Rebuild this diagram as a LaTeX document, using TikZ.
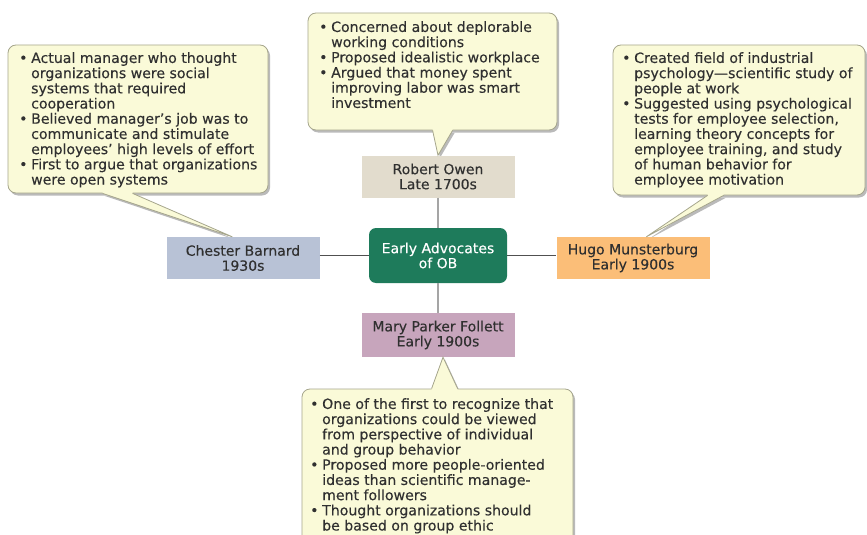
\documentclass[tikz,border=0pt]{standalone}
\usepackage{fontspec}
\setmainfont{DejaVu Sans}[FakeBold=0.25]
\usetikzlibrary{calc,shadows}
\pgfdeclarelayer{background}
\pgfsetlayers{background,main}
\definecolor{cfill}{RGB}{250,250,216}
\definecolor{cline}{RGB}{165,165,140}
\definecolor{cshadow}{RGB}{140,140,140}
\definecolor{owenc}{RGB}{226,220,205}
\definecolor{hubc}{RGB}{30,123,91}
\definecolor{barnc}{RGB}{184,194,214}
\definecolor{hugoc}{RGB}{251,190,120}
\definecolor{maryc}{RGB}{199,165,188}
\definecolor{txt}{RGB}{48,48,48}
\definecolor{hline}{RGB}{80,80,80}
\definecolor{vline}{RGB}{165,165,165}
\newcommand\bl{\makebox[12pt][l]{•}}
\newcommand\ct{\hspace*{12pt}}
\begin{document}
\begin{tikzpicture}[x=1pt,y=-1pt,
  person/.style={draw=none, fill=#1, minimum width=153pt, minimum height=42pt,
    inner sep=0pt, align=center, text=txt, font=\fontsize{14}{15}\selectfont},
  hubbox/.style={draw=none, fill=hubc, rounded corners=7pt, minimum width=138pt,
    minimum height=55pt, inner sep=0pt, align=center, text=white,
    font=\fontsize{14}{15}\selectfont},
  cbox/.style={draw=cline, line width=0.8pt, fill=cfill, rounded corners=8pt,
    drop shadow={shadow xshift=2pt, shadow yshift=-2.5pt, fill=cshadow, opacity=0.6},
    inner sep=0pt},
  ctext/.style={anchor=north west, inner sep=0pt, align=left, text=txt,
    font=\fontsize{14.1}{15.2}\selectfont},
  tailfill/.style={fill=cfill, draw=none},
  tailline/.style={draw=cline, line width=0.8pt, line join=miter},
  tailshadow/.style={fill=cshadow, opacity=0.6},
  hspoke/.style={draw=hline, line width=1.3pt},
  vspoke/.style={draw=vline, line width=1.3pt}
]
\useasboundingbox (0,0) rectangle (867,535);
\clip (0,0) rectangle (867,535);

% callout boxes
\node[cbox, minimum width=260pt, minimum height=148pt] (cL) at (138,119) {};
\node[cbox, minimum width=249pt, minimum height=117pt] (cT) at (432.5,71.5) {};
\node[cbox, minimum width=252pt, minimum height=150pt] (cR) at (739,120) {};
\node[cbox, minimum width=271pt, minimum height=160pt] (cB) at (437.5,469) {};

% person nodes
\node[person=owenc] (owen) at (438,176.5) {Robert Owen\\Late 1700s};
\node[hubbox] (hub) at (438,255.5) {Early Advocates\\of OB};
\node[person=barnc] (barnard) at (243,258) {Chester Barnard\\1930s};
\node[person=hugoc] (hugo) at (633,258) {Hugo Munsterburg\\Early 1900s};
\node[person=maryc, minimum height=44pt] (mary) at (438,335) {Mary Parker Follett\\Early 1900s};

% spokes
\draw[hspoke] (barnard.east |- hub.west) -- (hub.west);
\draw[hspoke] (hub.east) -- (hugo.west |- hub.east);
\draw[vspoke] (owen.south) -- (hub.north);
\draw[vspoke] (hub.south) -- (mary.north);

% tail coordinates
\coordinate (lb1) at ($(cL.south west)+(95,0)$);
\coordinate (lb2) at ($(cL.south west)+(125,0)$);
\coordinate (ltip) at ($(barnard.north west)+(66,0)$);
\coordinate (tb1) at ($(cT.south west)+(125,0)$);
\coordinate (tb2) at ($(cT.south west)+(145,0)$);
\coordinate (ttip) at (owen.north);
\coordinate (rb1) at ($(cR.south west)+(95,0)$);
\coordinate (rb2) at ($(cR.south west)+(111,0)$);
\coordinate (rtip) at ($(hugo.north west)+(90,0)$);
\coordinate (bb1) at ($(cB.north west)+(130,0)$);
\coordinate (bb2) at ($(cB.north west)+(156,0)$);
\coordinate (btip) at ($(mary.south)+(5,0)$);

% tail shadows
\begin{pgfonlayer}{background}
\foreach \a/\t/\b in {lb1/ltip/lb2, tb1/ttip/tb2, rb1/rtip/rb2, bb1/btip/bb2}{
  \fill[tailshadow] ([shift={(2pt,-2.5pt)}]\a) -- ([shift={(2pt,-2.5pt)}]\t) -- ([shift={(2pt,-2.5pt)}]\b) -- cycle;
}
\end{pgfonlayer}

% tails
\fill[tailfill] (lb1) -- (ltip) -- (lb2) -- ([yshift=2pt]lb2) -- ([yshift=2pt]lb1) -- cycle;
\draw[tailline] (lb1) -- (ltip) -- (lb2);
\fill[tailfill] (tb1) -- (ttip) -- (tb2) -- ([yshift=2pt]tb2) -- ([yshift=2pt]tb1) -- cycle;
\draw[tailline] (tb1) -- (ttip) -- (tb2);
\fill[tailfill] (rb1) -- (rtip) -- (rb2) -- ([yshift=2pt]rb2) -- ([yshift=2pt]rb1) -- cycle;
\draw[tailline] (rb1) -- (rtip) -- (rb2);
\fill[tailfill] (bb1) -- (btip) -- (bb2) -- ([yshift=-2pt]bb2) -- ([yshift=-2pt]bb1) -- cycle;
\draw[tailline] (bb1) -- (btip) -- (bb2);

% callout texts
\node[ctext] (tL) at (19,52) {\bl Actual manager who thought\\
\ct organizations were social\\
\ct systems that required\\
\ct cooperation\\
\bl Believed manager's job was to\\
\ct communicate and stimulate\\
\ct employees' high levels of effort\\
\bl First to argue that organizations\\
\ct were open systems};

\node[ctext] (tT) at (319,21) {\bl Concerned about deplorable\\
\ct working conditions\\
\bl Proposed idealistic workplace\\
\bl Argued that money spent\\
\ct improving labor was smart\\
\ct investment};

\node[ctext] (tR) at (622,52) {\bl Created field of industrial\\
\ct psychology---scientific study of\\
\ct people at work\\
\bl Suggested using psychological\\
\ct tests for employee selection,\\
\ct learning theory concepts for\\
\ct employee training, and study\\
\ct of human behavior for\\
\ct employee motivation};

\node[ctext] (tB) at (310,398) {\bl One of the first to recognize that\\
\ct organizations could be viewed\\
\ct from perspective of individual\\
\ct and group behavior\\
\bl Proposed more people-oriented\\
\ct ideas than scientific manage-\\
\ct ment followers\\
\bl Thought organizations should\\
\ct be based on group ethic};
\end{tikzpicture}
\end{document}
